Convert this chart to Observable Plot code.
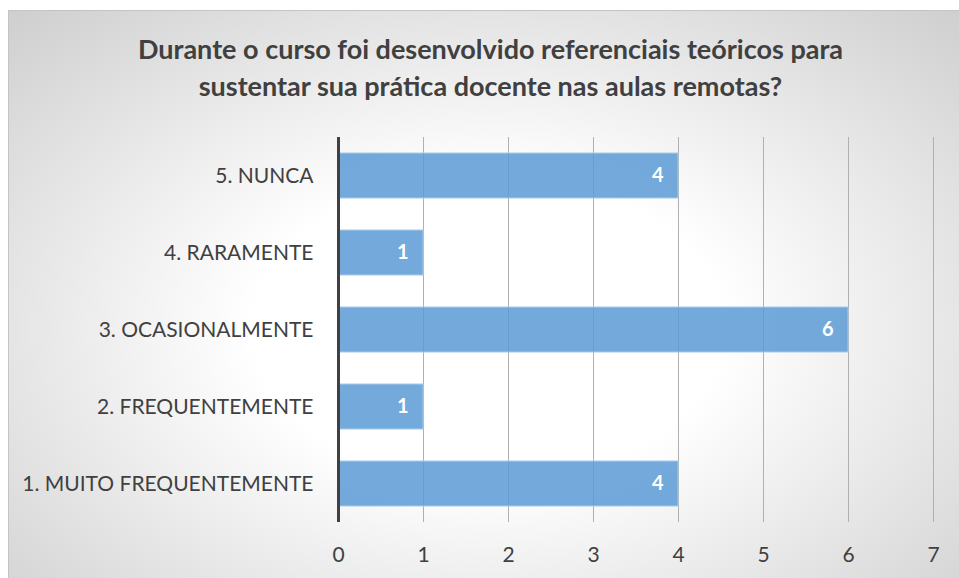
<!DOCTYPE html>
<html>
<head>
<meta charset="utf-8">
<script src="https://cdn.jsdelivr.net/npm/d3@7"></script>
<script src="https://cdn.jsdelivr.net/npm/@observablehq/plot@0.6"></script>
<style>
  html, body { margin: 0; padding: 0; background: #ffffff; }
  #page { position: relative; width: 959px; height: 578px; overflow: hidden; background: #ffffff; }
  #frame { position: absolute; left: 8px; top: 10px; width: 960px; height: 580px;
    border: 1px solid #c4c4c4; box-sizing: border-box;
    background: radial-gradient(ellipse 70% 75% at 50% 55%, #ffffff 35%, #d0d0d0 100%); }
  #chart { position: absolute; left: 0; top: 0; width: 959px; }
  #title { height: 120px; display: flex; align-items: center; justify-content: center; flex-direction: column;
    font-family: Lato, "Open Sans", sans-serif; font-weight: bold; font-size: 27px; color: #404040;
    line-height: 37px; text-align: center; padding-top: 14px; padding-left: 22px; box-sizing: border-box; }
  svg { display: block; }
</style>
</head>
<body>
<div id="page">
  <div id="frame"></div>
  <div id="chart">
    <div id="title"><div>Durante o curso foi desenvolvido referenciais teóricos para</div><div>sustentar sua prática docente nas aulas remotas?</div></div>
  </div>
</div>
<script>
const categories = ["1. MUITO FREQUENTEMENTE", "2. FREQUENTEMENTE", "3. OCASIONALMENTE", "4. RARAMENTE", "5. NUNCA"];
const values = [4, 1, 6, 1, 4];
const xTicks = [0, 1, 2, 3, 4, 5, 6, 7];
const gridTicks = [1, 2, 3, 4, 5, 6, 7];

const data = categories.map((c, i) => ({category: c, value: values[i]}));

const chart = Plot.plot({
  width: 959,
  height: 458,
  marginTop: 17,
  marginBottom: 56,
  marginLeft: 338,
  marginRight: 26,
  style: {background: "transparent", fontFamily: "Lato, 'Open Sans', sans-serif", fontSize: "21px", color: "#404040"},
  x: {domain: [0, 7], ticks: xTicks, tickFormat: "d", tickSize: 0, tickPadding: 25, label: null},
  y: {domain: categories.slice().reverse(), paddingInner: 0.41, paddingOuter: 0.2, tickSize: 0, tickPadding: 25, label: null},
  marks: [
    Plot.ruleX(gridTicks, {stroke: "#b0b0b0", strokeWidth: 1}),
    Plot.barX(data, {y: "category", x: "value", fill: "#5b9bd5", fillOpacity: 0.85, stroke: "#a8cbec", strokeWidth: 1}),
    Plot.ruleX([0], {stroke: "#404040", strokeWidth: 3}),
    Plot.text(data, {y: "category", x: "value", text: d => String(d.value), textAnchor: "end", dx: -15,
      fill: "white", fontWeight: "bold", fontSize: 20})
  ]
});
document.getElementById("chart").appendChild(chart);
</script>
</body>
</html>
